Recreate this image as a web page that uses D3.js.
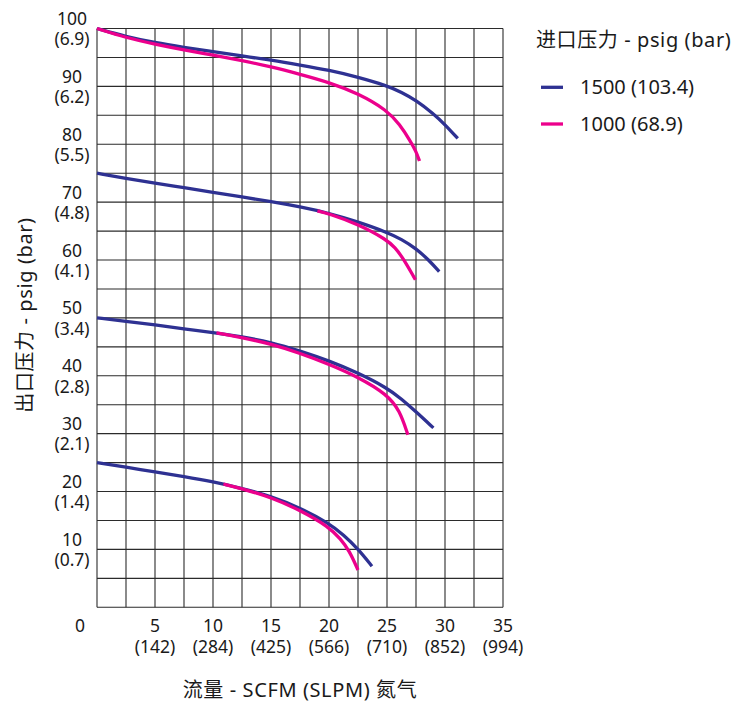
<!DOCTYPE html>
<html>
<head>
<meta charset="utf-8">
<script src="https://cdn.jsdelivr.net/npm/d3@7"></script>
<style>
  body { margin: 0; background: #fff; }
  text { font-family: "Noto Sans", "Noto Sans CJK SC", sans-serif; fill: #1a1a1a; }
</style>
</head>
<body>
<svg id="chart" width="735" height="704"></svg>
<script>
// tick labels
const flowTicks = [5, 10, 15, 20, 25, 30, 35];
const slpmTicks = [142, 284, 425, 566, 710, 852, 994];
const psigTicks = [10, 20, 30, 40, 50, 60, 70, 80, 90, 100];
const barTicks = [0.7, 1.4, 2.1, 2.8, 3.4, 4.1, 4.8, 5.5, 6.2, 6.9];

// series: [scfm, outlet psig]
const out100_1500 = [[0, 100], [2.5, 98.6], [5, 97.55], [7.5, 96.75], [10, 96.0], [12.5, 95.25], [15, 94.55], [17.5, 93.7], [20, 92.8], [22.5, 91.6], [25, 90.1], [26.25, 89.0], [27.5, 87.6], [29, 85.3], [30, 83.4], [31.1, 81.0]];
const out100_1000 = [[0, 100], [2.5, 98.4], [5, 97.3], [7.5, 96.3], [10, 95.4], [12.5, 94.45], [15, 93.4], [17.5, 92.1], [20, 90.7], [22.5, 88.8], [25, 85.9], [26.1, 83.4], [27, 80.6], [27.5, 78.8], [27.8, 77.1]];
const out75_1500 = [[0, 75], [2.5, 74.1], [5, 73.25], [7.5, 72.5], [10, 71.7], [12.5, 70.9], [15, 70.1], [17.5, 69.2], [20, 68.1], [22.5, 66.6], [25, 64.8], [26.25, 63.6], [27.5, 62.0], [28.6, 60.0], [29.5, 58.0]];
const out75_1000 = [[19, 68.5], [20, 68.0], [22.5, 66.2], [25, 63.5], [25.7, 62.1], [26.3, 60.6], [27.45, 56.6]];
const out50_1500 = [[0, 50], [2.5, 49.4], [5, 48.8], [7.5, 48.1], [10, 47.5], [12.5, 46.75], [15, 45.8], [17.5, 44.3], [20, 42.6], [22.5, 40.5], [25, 37.9], [26.25, 36.0], [27.5, 33.8], [29, 31.0]];
const out50_1000 = [[10.3, 47.4], [12.5, 46.6], [15, 45.5], [17.5, 43.9], [20, 42.0], [22.5, 39.8], [25, 36.8], [26.1, 34.0], [26.8, 29.8]];
const out25_1500 = [[0, 25], [2.5, 24.2], [5, 23.4], [7.5, 22.6], [10, 21.7], [12.5, 20.55], [15, 19.2], [17.5, 17.2], [20, 14.5], [21.25, 12.5], [22.5, 10.1], [23.7, 7.1]];
const out25_1000 = [[10.9, 21.3], [12.5, 20.5], [15, 19.0], [17.5, 16.8], [20, 13.9], [21, 11.8], [21.75, 9.8], [22.5, 6.45]];

const legendLabels = ['1500 (103.4)', '1000 (68.9)'];
const colors = ['#2e3192', '#ec008c'];

const svg = d3.select('#chart');

// scales
const x = d3.scaleLinear().domain([0, 35]).range([97, 503]);
const y = d3.scaleLinear().domain([0, 100]).range([607.3, 28.5]);

// grid
const grid = svg.append('g').attr('stroke', '#2b2b2b').attr('stroke-width', 1.1);
grid.selectAll('line.v')
  .data(d3.range(0, 35.01, 2.5))
  .enter().append('line')
  .attr('x1', (d) => x(d)).attr('x2', (d) => x(d))
  .attr('y1', y(0)).attr('y2', y(100));
grid.selectAll('line.h')
  .data(d3.range(0, 100.01, 5))
  .enter().append('line')
  .attr('x1', x(0)).attr('x2', x(35))
  .attr('y1', (d) => y(d)).attr('y2', (d) => y(d));

// y tick labels, two lines centered on the grid line
const yl = svg.append('g').attr('text-anchor', 'middle').style('font-size', '17.5px');
psigTicks.forEach((d, i) => {
  yl.append('text').attr('x', 72).attr('y', y(d) - 3.5).text(d);
  yl.append('text').attr('x', 72).attr('y', y(d) + 16.8).text('(' + barTicks[i] + ')');
});

// x tick labels
const xl = svg.append('g').attr('text-anchor', 'middle').style('font-size', '17.5px');
xl.append('text').attr('x', 80).attr('y', 631.5).text('0');
flowTicks.forEach((d, i) => {
  xl.append('text').attr('x', x(d)).attr('y', 631.5).text(d);
  xl.append('text').attr('x', x(d)).attr('y', 652.5).text('(' + slpmTicks[i] + ')');
});

// curves
const line = d3.line()
  .x((d) => x(d[0]))
  .y((d) => y(d[1]))
  .curve(d3.curveBasis);

const series = [
  [out100_1500, 0], [out75_1500, 0], [out50_1500, 0], [out25_1500, 0],
  [out100_1000, 1], [out75_1000, 1], [out50_1000, 1], [out25_1000, 1]
];
svg.append('g').selectAll('path')
  .data(series)
  .enter().append('path')
  .attr('d', (d) => line(d[0]))
  .attr('fill', 'none')
  .attr('stroke', (d) => colors[d[1]])
  .attr('stroke-width', 3.3);

// axis titles
svg.append('text')
  .attr('x', 300).attr('y', 697)
  .attr('text-anchor', 'middle')
  .style('font-size', '20px')
  .style('letter-spacing', '0.6px')
  .text('流量 - SCFM (SLPM) 氮气');

svg.append('text')
  .attr('transform', 'translate(32,315) rotate(-90)')
  .attr('text-anchor', 'middle')
  .style('font-size', '20px')
  .style('letter-spacing', '0.6px')
  .text('出口压力 - psig (bar)');

// legend
const lg = svg.append('g');
lg.append('text').attr('x', 536).attr('y', 47).style('font-size', '20px')
  .style('letter-spacing', '0.6px').text('进口压力 - psig (bar)');
legendLabels.forEach((t, i) => {
  const ly = 87.3 + i * 36.7;
  lg.append('line')
    .attr('x1', 541).attr('x2', 563)
    .attr('y1', ly).attr('y2', ly)
    .attr('stroke', colors[i]).attr('stroke-width', 3.3);
  lg.append('text').attr('x', 580).attr('y', ly + 7).style('font-size', '20px').text(t);
});
</script>
</body>
</html>
